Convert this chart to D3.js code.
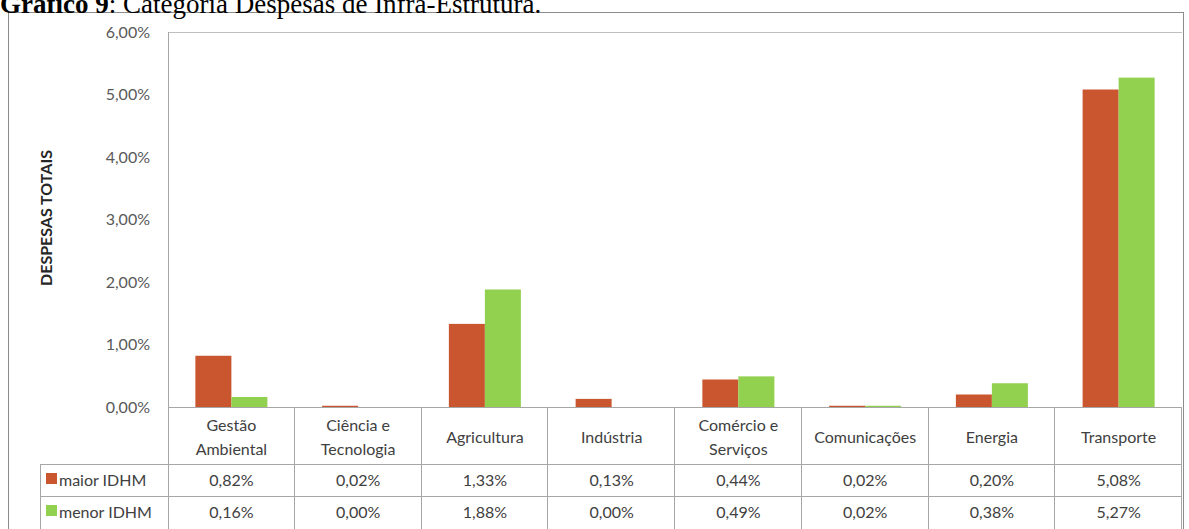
<!doctype html>
<html>
<head>
<meta charset="utf-8">
<script src="https://d3js.org/d3.v7.min.js"></script>
<style>
  body { margin:0; background:#fff; }
  svg { display:block; }
  .lbl { font-family: Lato, "Open Sans", sans-serif; font-size:16px; fill:#404040; }
</style>
</head>
<body>
<script>
// categories and series (values in %)
var categories = [["Gestão","Ambiental"],["Ciência e","Tecnologia"],["Agricultura"],["Indústria"],
                  ["Comércio e","Serviços"],["Comunicações"],["Energia"],["Transporte"]];
var maiorIDHM = [0.82, 0.02, 1.33, 0.13, 0.44, 0.02, 0.20, 5.08];
var menorIDHM = [0.16, 0.00, 1.88, 0.00, 0.49, 0.02, 0.38, 5.27];
var seriesNames = ["maior IDHM", "menor IDHM"];
var yTicks = [0, 1, 2, 3, 4, 5, 6];

var colors = ["#c9562f", "#92d050"];
var W = 1189, H = 529;
var plotL = 168, plotR = 1182, plotT = 32, plotB = 407;
var rowH = 32, headerBottom = 464;

var svg = d3.select("body").append("svg").attr("width", W).attr("height", H);

// outer frame
svg.append("rect").attr("x", 8.5).attr("y", 12.5).attr("width", 1175).attr("height", 540)
    .attr("fill", "none").attr("stroke", "#8c8c8c");

// title (partly cut off at the top of the page)
var title = svg.append("text").attr("x", 0).attr("y", 13)
    .style("font-family", "'Liberation Serif', 'Times New Roman', serif").style("font-size", "27px");
title.append("tspan").style("font-weight", "bold").text("Gráfico 9");
title.append("tspan").text(": Categoria Despesas de Infra-Estrutura.");

var x = d3.scaleBand().domain(d3.range(categories.length)).range([plotL, plotR]).padding(0);
var xi = d3.scaleBand().domain([0, 1]).range([0, x.bandwidth()]).paddingInner(0).paddingOuter(0.76);
var y = d3.scaleLinear().domain([0, 6]).range([plotB, plotT]);

// top line of plot area
svg.append("line").attr("x1", plotL).attr("x2", plotR).attr("y1", plotT + 0.5).attr("y2", plotT + 0.5)
    .attr("stroke", "#bfbfbf");

// y axis labels
var fmt = function(d) { return d3.format(".2f")(d).replace(".", ",") + "%"; };
svg.selectAll(".ytick").data(yTicks).enter().append("text")
    .attr("class", "lbl").attr("x", 150).attr("y", function(d) { return y(d); })
    .attr("dy", "0.35em").attr("text-anchor", "end").style("fill", "#595959").text(fmt);

// y title
svg.append("text").attr("transform", "translate(52," + 218 + ") rotate(-90)")
    .attr("text-anchor", "middle").style("font-family", "Lato, sans-serif").style("font-weight", "bold")
    .style("font-size", "16px").style("fill", "#262626").text("DESPESAS TOTAIS");

// bars
var series = [maiorIDHM, menorIDHM];
series.forEach(function(vals, s) {
  svg.append("g").selectAll("rect").data(vals).enter().append("rect")
      .attr("x", function(d, i) { return x(i) + xi(s); })
      .attr("width", xi.bandwidth())
      .attr("y", function(d) { return y(d); })
      .attr("height", function(d) { return plotB - y(d); })
      .attr("fill", colors[s]);
});

// table grid
var grid = svg.append("g").attr("stroke", "#a6a6a6").attr("fill", "none");
grid.append("line").attr("x1", plotL).attr("x2", plotR).attr("y1", plotB + 0.5).attr("y2", plotB + 0.5);
grid.append("line").attr("x1", 40).attr("x2", plotR).attr("y1", headerBottom + 0.5).attr("y2", headerBottom + 0.5);
grid.append("line").attr("x1", 40).attr("x2", plotR).attr("y1", headerBottom + rowH + 0.5).attr("y2", headerBottom + rowH + 0.5);
grid.append("line").attr("x1", 40.5).attr("x2", 40.5).attr("y1", headerBottom).attr("y2", H);
grid.append("line").attr("x1", plotL + 0.5).attr("x2", plotL + 0.5).attr("y1", plotT).attr("y2", H);
grid.selectAll(".vsep").data(d3.range(1, categories.length + 1)).enter().append("line")
    .attr("x1", function(i) { return Math.round(x.step() * i + plotL) - 0.5; })
    .attr("x2", function(i) { return Math.round(x.step() * i + plotL) - 0.5; })
    .attr("y1", plotB).attr("y2", H);

// category labels
var cat = svg.selectAll(".cat").data(categories).enter().append("text")
    .attr("class", "lbl").attr("text-anchor", "middle")
    .attr("y", function(d) { return d.length > 1 ? 425 : 437; });
cat.selectAll("tspan").data(function(d, i) { return d.map(function(t) { return {t: t, i: i}; }); })
    .enter().append("tspan")
    .attr("x", function(d) { return x(d.i) + x.bandwidth() / 2; })
    .attr("dy", function(d, j) { return j === 0 ? "0.35em" : "1.5em"; })
    .text(function(d) { return d.t; });

// table rows
series.forEach(function(vals, s) {
  var cy = headerBottom + rowH * s + rowH / 2;
  svg.append("rect").attr("x", 46).attr("y", cy - 7).attr("width", 11).attr("height", 11).attr("fill", colors[s]);
  svg.append("text").attr("class", "lbl").attr("x", 59).attr("y", cy).attr("dy", "0.35em").text(seriesNames[s]);
  svg.append("g").selectAll("text").data(vals).enter().append("text")
      .attr("class", "lbl").attr("text-anchor", "middle")
      .attr("x", function(d, i) { return x(i) + x.bandwidth() / 2; })
      .attr("y", cy).attr("dy", "0.35em").text(fmt);
});
</script>
</body>
</html>
